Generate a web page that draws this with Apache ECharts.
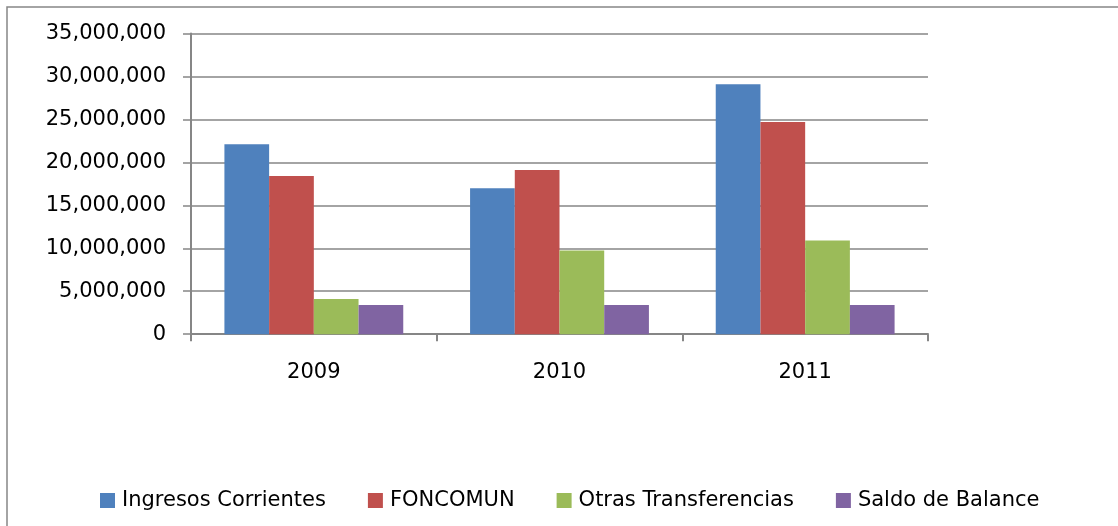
<!DOCTYPE html>
<html>
<head>
<meta charset="utf-8">
<script src="https://cdn.jsdelivr.net/npm/echarts@6/dist/echarts.min.js"></script>
<style>
  html, body { margin: 0; padding: 0; background: #ffffff; }
  #chart { width: 1118px; height: 526px; }
</style>
</head>
<body>
<div id="chart"></div>
<script>
// Years on the category axis
const years = ['2009', '2010', '2011'];

// Income sources per year (pesos)
const ingresosCorrientes = [22100000, 17000000, 29100000];
const foncomun = [18400000, 19100000, 24700000];
const otrasTransferencias = [4100000, 9750000, 10900000];
const saldoDeBalance = [3400000, 3400000, 3400000];

const seriesNames = ['Ingresos Corrientes', 'FONCOMUN', 'Otras Transferencias', 'Saldo de Balance'];
const seriesColors = ['#4F81BD', '#C0504D', '#9BBB59', '#8064A2'];
const seriesValues = [ingresosCorrientes, foncomun, otrasTransferencias, saldoDeBalance];

const FONT = '"DejaVu Sans", "Liberation Sans", sans-serif';
const AXIS_GRAY = '#868686';

const chart = echarts.init(document.getElementById('chart'), null, { renderer: 'canvas' });

chart.setOption({
  animation: false,
  backgroundColor: '#ffffff',
  graphic: [{
    // chart frame (its right and bottom edges run past the canvas)
    type: 'rect',
    shape: { x: 7, y: 7, width: 1300, height: 700 },
    style: { fill: 'none', stroke: AXIS_GRAY, lineWidth: 1.5 },
    silent: true
  }],
  grid: { left: 191, right: 190, top: 33.5, bottom: 191.8, containLabel: false },
  legend: {
    left: 95,
    top: 485,
    itemWidth: 15,
    itemHeight: 15,
    itemGap: 42,
    icon: 'rect',
    textStyle: { fontFamily: FONT, fontSize: 21, color: '#000000', padding: [0, 0, 0, 2] },
    data: seriesNames
  },
  xAxis: {
    type: 'category',
    data: years,
    axisLine: { show: true, lineStyle: { color: AXIS_GRAY, width: 2 } },
    axisTick: { show: true, alignWithLabel: false, length: 7, lineStyle: { color: AXIS_GRAY, width: 2 } },
    axisLabel: { fontFamily: FONT, fontSize: 21, color: '#000000', margin: 28 },
    splitLine: { show: false }
  },
  yAxis: {
    type: 'value',
    min: 0,
    max: 35000000,
    interval: 5000000,
    axisLine: { show: true, lineStyle: { color: AXIS_GRAY, width: 2 } },
    axisTick: { show: true, length: 8, lineStyle: { color: AXIS_GRAY, width: 1.5 } },
    axisLabel: {
      fontFamily: FONT, fontSize: 21, color: '#000000', margin: 25,
      formatter: v => v.toLocaleString('en-US')
    },
    splitLine: { show: true, lineStyle: { color: AXIS_GRAY, width: 1.5 } }
  },
  series: seriesNames.map((name, i) => ({
    name: name,
    type: 'bar',
    data: seriesValues[i],
    barGap: '0%',
    barCategoryGap: '27.2%',
    itemStyle: { color: seriesColors[i] }
  }))
});
</script>
</body>
</html>
